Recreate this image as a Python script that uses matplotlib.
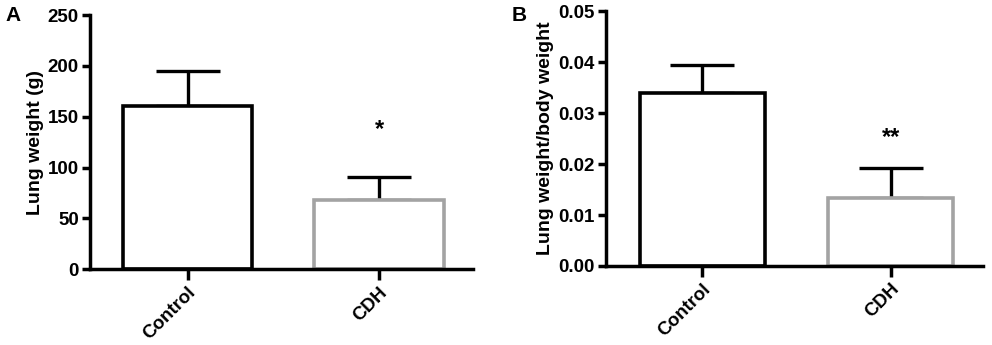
import numpy as np
import matplotlib.pyplot as plt

plt.rcParams['font.family'] = ['Liberation Sans', 'DejaVu Sans']
plt.rcParams['font.weight'] = 'bold'

groups = ["Control", "CDH"]
lung_weight = [160.5, 68]
lung_weight_err = [35, 23]
ratio = [0.034, 0.0134]
ratio_err = [0.0055, 0.0058]
edge_colors = ["black", "#a3a3a3"]

fig = plt.figure(figsize=(9.92, 3.45), dpi=100)
axA = fig.add_axes([0.0907, 0.220, 0.386, 0.736])
axB = fig.add_axes([0.611, 0.229, 0.380, 0.739])


def draw_panel(ax, vals, errs, ylim, yticks, ylabel, fmt, width):
    x = np.arange(len(groups))
    ax.errorbar(x, vals, yerr=[np.zeros(len(vals)), errs], fmt='none',
                ecolor='black', elinewidth=2.4, capsize=23, capthick=2.4, zorder=1)
    ax.bar(x, vals, width=width, color='white', edgecolor=edge_colors,
           linewidth=2.6, zorder=2)
    ax.set_ylim(*ylim)
    ax.set_xlim(-0.51, 1.49)
    ax.set_yticks(yticks)
    ax.set_yticklabels([fmt.format(t) for t in yticks], fontsize=13.5, fontweight='bold')
    ax.set_xticks(x)
    ax.set_xticklabels(groups, rotation=45, ha='right', rotation_mode='anchor',
                       fontsize=13.5, fontweight='bold')
    ax.set_ylabel(ylabel, fontsize=14, fontweight='bold', labelpad=3)
    for s in ['top', 'right']:
        ax.spines[s].set_visible(False)
    for s in ['left', 'bottom']:
        ax.spines[s].set_linewidth(2.5)
    ax.tick_params(axis='y', width=2.5, length=6, pad=2)
    ax.tick_params(axis='x', width=2.5, length=8, pad=2.5)


draw_panel(axA, lung_weight, lung_weight_err, (0, 250), [0, 50, 100, 150, 200, 250],
           "Lung weight (g)", "{:g}", 0.675)
draw_panel(axB, ratio, ratio_err, (0, 0.05), [0, 0.01, 0.02, 0.03, 0.04, 0.05],
           "Lung weight/body weight", "{:.2f}", 0.665)

axA.text(1, 126, "*", ha='center', va='bottom', fontsize=17, fontweight='bold')
axB.text(1, 0.0229, "**", ha='center', va='bottom', fontsize=17, fontweight='bold')

fig.text(0.006, 0.955, "A", fontsize=15, fontweight='bold', va='center')
fig.text(0.516, 0.955, "B", fontsize=15, fontweight='bold', va='center')

fig.savefig("out.png", dpi=100)
